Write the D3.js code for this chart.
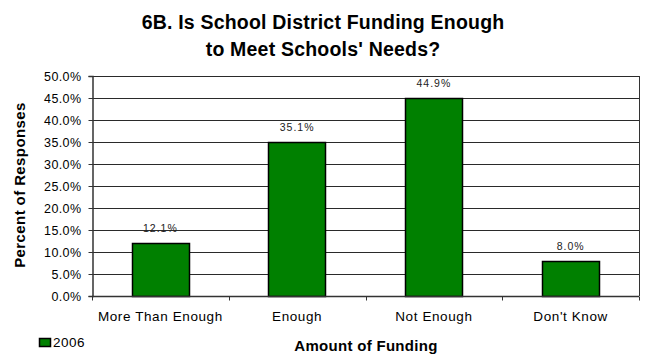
<!DOCTYPE html>
<html>
<head>
<meta charset="utf-8">
<script src="https://cdn.jsdelivr.net/npm/d3@7"></script>
<style>
  html, body { margin: 0; padding: 0; background: #fff; }
  svg { display: block; font-family: "Liberation Sans", Arial, sans-serif; }
</style>
</head>
<body>
<svg id="chart" width="647" height="354"></svg>
<script>
// Survey responses, 2006
const categories = ["More Than Enough", "Enough", "Not Enough", "Don't Know"];
const values2006 = [12.1, 35.1, 44.9, 8.0];
const yTicks = [0, 5, 10, 15, 20, 25, 30, 35, 40, 45, 50];
const seriesName = "2006";
const titleLines = ["6B. Is School District Funding Enough", "to Meet Schools' Needs?"];
const xTitle = "Amount of Funding";
const yTitle = "Percent of Responses";

const svg = d3.select("#chart");
const plot = { left: 92, top: 76, right: 639, bottom: 296 };

const x = d3.scaleBand()
  .domain(categories)
  .range([plot.left, plot.right])
  .paddingInner(0.58)
  .paddingOuter(0.29);

const y = d3.scaleLinear().domain([0, 50]).range([plot.bottom, plot.top]);

// Title
svg.append("g").selectAll("text")
  .data(titleLines)
  .join("text")
  .attr("x", 323)
  .attr("y", (d, i) => 29 + i * 26.5)
  .attr("text-anchor", "middle")
  .attr("font-weight", "bold")
  .attr("font-size", 19.5)
  .attr("letter-spacing", 0.2)
  .attr("fill", "#000")
  .text(d => d);

// Horizontal gridlines
svg.append("g").selectAll("line")
  .data(yTicks.filter(t => t > 0))
  .join("line")
  .attr("x1", plot.left)
  .attr("x2", plot.right)
  .attr("y1", d => Math.round(y(d)) + 0.5)
  .attr("y2", d => Math.round(y(d)) + 0.5)
  .attr("stroke", "#2a2a2a")
  .attr("stroke-width", 1);

// Right border of plot area
svg.append("line")
  .attr("x1", plot.right + 0.5).attr("x2", plot.right + 0.5)
  .attr("y1", plot.top).attr("y2", plot.bottom)
  .attr("stroke", "#333");

// Bars
svg.append("g").selectAll("rect")
  .data(values2006)
  .join("rect")
  .attr("x", (d, i) => Math.round(x(categories[i])) + 0.5)
  .attr("y", d => Math.round(y(d)) + 0.5)
  .attr("width", Math.round(x.bandwidth()))
  .attr("height", d => Math.round(y(0)) - Math.round(y(d)))
  .attr("fill", "#008000")
  .attr("stroke", "#000")
  .attr("stroke-width", 1.5);

// Value labels
svg.append("g").selectAll("text")
  .data(values2006)
  .join("text")
  .attr("x", (d, i) => x(categories[i]) + x.bandwidth() / 2)
  .attr("y", d => y(d) - 11)
  .attr("text-anchor", "middle")
  .attr("font-size", 10.5)
  .attr("letter-spacing", 1)
  .attr("fill", "#222")
  .text(d => d.toFixed(1) + "%");

// Y axis
const yAxis = d3.axisLeft(y)
  .tickValues(yTicks)
  .tickSize(4)
  .tickFormat(d => d.toFixed(1) + "%");
const yg = svg.append("g")
  .attr("transform", `translate(${plot.left + 0.5},0)`)
  .call(yAxis);
yg.select(".domain").attr("stroke", "#333").attr("stroke-width", 1.5);
yg.selectAll(".tick line").attr("stroke", "#333");
yg.selectAll(".tick text")
  .attr("font-family", "Liberation Sans, Arial, sans-serif")
  .attr("font-size", 12.5)
  .attr("letter-spacing", 0.4)
  .attr("fill", "#000")
  .attr("x", -11);

// X axis with ticks at category boundaries
const xg = svg.append("g")
  .attr("transform", `translate(0,${plot.bottom + 0.5})`);
xg.append("line")
  .attr("x1", plot.left).attr("x2", plot.right)
  .attr("stroke", "#333").attr("stroke-width", 1.5);
const bounds = d3.range(categories.length + 1).map(i => plot.left + i * x.step());
xg.selectAll("line.tk")
  .data(bounds)
  .join("line")
  .attr("class", "tk")
  .attr("x1", d => Math.round(d) + 0.5).attr("x2", d => Math.round(d) + 0.5)
  .attr("y1", 0).attr("y2", 4)
  .attr("stroke", "#333");
xg.selectAll("text")
  .data(categories)
  .join("text")
  .attr("x", d => x(d) + x.bandwidth() / 2)
  .attr("y", 24)
  .attr("text-anchor", "middle")
  .attr("font-size", 13.5)
  .attr("letter-spacing", 0.6)
  .attr("fill", "#000")
  .text(d => d);

// Axis titles
svg.append("text")
  .attr("x", 366)
  .attr("y", 351)
  .attr("text-anchor", "middle")
  .attr("font-weight", "bold")
  .attr("font-size", 15)
  .attr("letter-spacing", 0.3)
  .text(xTitle);

svg.append("text")
  .attr("transform", "translate(25,185) rotate(-90)")
  .attr("text-anchor", "middle")
  .attr("font-weight", "bold")
  .attr("font-size", 15)
  .attr("letter-spacing", 0.4)
  .text(yTitle);

// Legend
const lg = svg.append("g").attr("transform", "translate(39,338)");
lg.append("rect")
  .attr("x", 0.5).attr("y", 0.5)
  .attr("width", 11).attr("height", 8)
  .attr("fill", "#008000").attr("stroke", "#000").attr("stroke-width", 1.5);
lg.append("text")
  .attr("x", 14).attr("y", 8.5)
  .attr("font-size", 13.5)
  .attr("letter-spacing", 0.5)
  .text(seriesName);
</script>
</body>
</html>
